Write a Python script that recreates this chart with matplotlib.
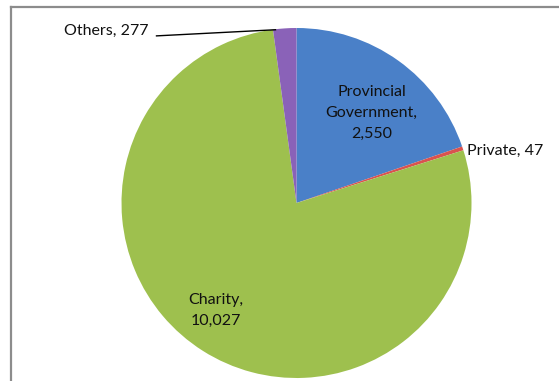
import matplotlib
matplotlib.use("Agg")
import matplotlib.pyplot as plt
from matplotlib.lines import Line2D

categories = ["Provincial\nGovernment", "Private", "Charity", "Others"]
values = [2550, 47, 10027, 277]
value_labels = ["2,550", "47", "10,027", "277"]
colors = ["#4a80c8", "#d9534f", "#9ec04e", "#8a62b8"]

W, H = 559, 381
fig = plt.figure(figsize=(W / 100, H / 100), dpi=100)
fig.patch.set_facecolor("white")

# chart frame (left and top edges visible)
fig.add_artist(Line2D([10.5 / W, 10.5 / W], [0, 1 - 6.5 / H], color="#8c8c8c", lw=1.6, transform=fig.transFigure))
fig.add_artist(Line2D([10.5 / W, 1], [1 - 6.5 / H, 1 - 6.5 / H], color="#8c8c8c", lw=1.6, transform=fig.transFigure))

cx, cy, R = 296.5, 203, 175
ax = fig.add_axes([(cx - R) / W, (H - cy - R) / H, 2 * R / W, 2 * R / H])

wedges, _ = ax.pie(values, colors=colors, startangle=90, counterclock=False, radius=1.0,
                   wedgeprops=dict(edgecolor="none", linewidth=0))
ax.set_xlim(-1, 1)
ax.set_ylim(-1, 1)
ax.set_aspect("auto")
ax.axis("off")

font = ["Lato", "DejaVu Sans"]
fs = 11.5

# Provincial Government label
ax.text(0.43, 0.515, "Provincial\nGovernment,\n" + value_labels[0], ha="center", va="center",
        fontsize=fs, family=font, linespacing=1.65, color="#111111")
# Private label
ax.text(0.975, 0.30, "Private, " + value_labels[1], ha="left", va="center",
        fontsize=fs, family=font, color="#111111")
# Charity label
ax.text(-0.46, -0.615, "Charity,\n" + value_labels[2], ha="center", va="center",
        fontsize=fs, family=font, linespacing=1.65, color="#111111")
# Others label with leader line
ax.text(-0.845, 0.985, "Others, " + value_labels[3], ha="right", va="center",
        fontsize=fs, family=font, color="#111111")
ax.plot([-0.80, -0.12], [0.955, 0.99], color="black", lw=1.0, clip_on=False)

fig.savefig("out.png", dpi=100)
